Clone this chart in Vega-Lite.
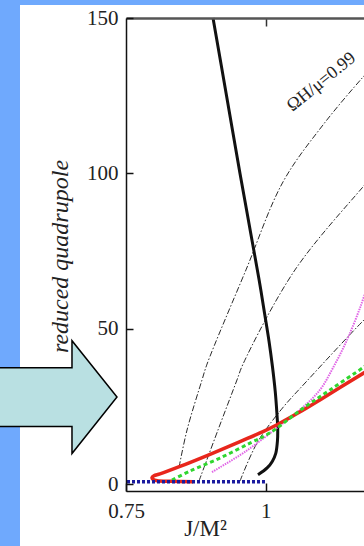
{
  "$schema": "https://vega.github.io/schema/vega-lite/v6.json",
  "width": 238,
  "height": 473,
  "autosize": {"type": "none"},
  "padding": {"left": 126, "top": 18, "right": 0, "bottom": 55},
  "background": "#6fa9fd",
  "config": {"view": {"stroke": null}, "axis": {"grid": false}},
  "resolve": {"axis": {"x": "independent", "y": "independent"}},
  "datasets": {
    "one": [{}],
    "curves": [
      {"s": "bh", "i": 0, "J": 0.9057, "Q": 150},
      {"s": "bh", "i": 1, "J": 0.9299, "Q": 125},
      {"s": "bh", "i": 2, "J": 0.954, "Q": 100},
      {"s": "bh", "i": 3, "J": 0.966, "Q": 88},
      {"s": "bh", "i": 4, "J": 0.977, "Q": 77},
      {"s": "bh", "i": 5, "J": 0.988, "Q": 66},
      {"s": "bh", "i": 6, "J": 0.998, "Q": 55},
      {"s": "bh", "i": 7, "J": 1.006, "Q": 46},
      {"s": "bh", "i": 8, "J": 1.012, "Q": 38},
      {"s": "bh", "i": 9, "J": 1.017, "Q": 30},
      {"s": "bh", "i": 10, "J": 1.02, "Q": 23},
      {"s": "bh", "i": 11, "J": 1.0215, "Q": 18},
      {"s": "bh", "i": 12, "J": 1.021, "Q": 14},
      {"s": "bh", "i": 13, "J": 1.018, "Q": 10},
      {"s": "bh", "i": 14, "J": 1.012, "Q": 7.5},
      {"s": "bh", "i": 15, "J": 1.003, "Q": 5.4},
      {"s": "bh", "i": 16, "J": 0.9862, "Q": 3.1},
      {"s": "w1", "i": 0, "J": 0.845, "Q": 5.6},
      {"s": "w1", "i": 1, "J": 0.8592, "Q": 17.5},
      {"s": "w1", "i": 2, "J": 0.886, "Q": 33.6},
      {"s": "w1", "i": 3, "J": 0.895, "Q": 38.7},
      {"s": "w1", "i": 4, "J": 0.9647, "Q": 69},
      {"s": "w1", "i": 5, "J": 1.031, "Q": 97.3},
      {"s": "w1", "i": 6, "J": 1.1025, "Q": 115.6},
      {"s": "w1", "i": 7, "J": 1.1741, "Q": 131},
      {"s": "w1", "i": 8, "J": 1.2, "Q": 136},
      {"s": "w2", "i": 0, "J": 0.8806, "Q": 1.1},
      {"s": "w2", "i": 1, "J": 0.9146, "Q": 17.5},
      {"s": "w2", "i": 2, "J": 0.9486, "Q": 33.6},
      {"s": "w2", "i": 3, "J": 0.9594, "Q": 38.7},
      {"s": "w2", "i": 4, "J": 1.0524, "Q": 69},
      {"s": "w2", "i": 5, "J": 1.1741, "Q": 95.7},
      {"s": "w2", "i": 6, "J": 1.2, "Q": 101},
      {"s": "w3", "i": 0, "J": 0.954, "Q": 1.1},
      {"s": "w3", "i": 1, "J": 0.9844, "Q": 13.3},
      {"s": "w3", "i": 2, "J": 1.0274, "Q": 24},
      {"s": "w3", "i": 3, "J": 1.0739, "Q": 33.3},
      {"s": "w3", "i": 4, "J": 1.1759, "Q": 52.9},
      {"s": "w3", "i": 5, "J": 1.2, "Q": 57},
      {"s": "mag", "i": 0, "J": 0.9039, "Q": 4.0},
      {"s": "mag", "i": 1, "J": 0.963, "Q": 10.5},
      {"s": "mag", "i": 2, "J": 1.0202, "Q": 18.2},
      {"s": "mag", "i": 3, "J": 1.0614, "Q": 24},
      {"s": "mag", "i": 4, "J": 1.097, "Q": 30.4},
      {"s": "mag", "i": 5, "J": 1.1204, "Q": 37.5},
      {"s": "mag", "i": 6, "J": 1.1455, "Q": 46.5},
      {"s": "mag", "i": 7, "J": 1.1706, "Q": 57.7},
      {"s": "mag", "i": 8, "J": 1.1866, "Q": 66.4},
      {"s": "grn", "i": 0, "J": 0.8323, "Q": 1.4},
      {"s": "grn", "i": 1, "J": 0.8645, "Q": 4.3},
      {"s": "grn", "i": 2, "J": 0.9182, "Q": 8.5},
      {"s": "grn", "i": 3, "J": 0.9719, "Q": 13.3},
      {"s": "grn", "i": 4, "J": 1.0077, "Q": 16.6},
      {"s": "grn", "i": 5, "J": 1.0614, "Q": 23.8},
      {"s": "grn", "i": 6, "J": 1.115, "Q": 30.4},
      {"s": "grn", "i": 7, "J": 1.1759, "Q": 37.8},
      {"s": "grn", "i": 8, "J": 1.2, "Q": 41},
      {"s": "red", "i": 0, "J": 0.87, "Q": 0.9},
      {"s": "red", "i": 1, "J": 0.83, "Q": 1.0},
      {"s": "red", "i": 2, "J": 0.806, "Q": 1.2},
      {"s": "red", "i": 3, "J": 0.7985, "Q": 1.6},
      {"s": "red", "i": 4, "J": 0.7965, "Q": 2.2},
      {"s": "red", "i": 5, "J": 0.8, "Q": 2.8},
      {"s": "red", "i": 6, "J": 0.8108, "Q": 3.4},
      {"s": "red", "i": 7, "J": 0.8466, "Q": 5.8},
      {"s": "red", "i": 8, "J": 0.895, "Q": 9.3},
      {"s": "red", "i": 9, "J": 0.954, "Q": 13.8},
      {"s": "red", "i": 10, "J": 0.9952, "Q": 17.0},
      {"s": "red", "i": 11, "J": 1.0202, "Q": 19.2},
      {"s": "red", "i": 12, "J": 1.06, "Q": 23.2},
      {"s": "red", "i": 13, "J": 1.097, "Q": 27.2},
      {"s": "red", "i": 14, "J": 1.1759, "Q": 35.9},
      {"s": "red", "i": 15, "J": 1.2, "Q": 38.6},
      {"s": "blue", "i": 0, "J": 0.7518, "Q": 0.9},
      {"s": "blue", "i": 1, "J": 0.9987, "Q": 0.9}
    ]
  },
  "layer": [
    {
      "data": {"name": "one"},
      "mark": {"type": "rect", "fill": "#ffffff", "clip": false},
      "encoding": {
        "x": {"datum": 0.5603, "type": "quantitative", "scale": {"domain": [0.75, 1.1759], "nice": false, "zero": false}, "axis": null},
        "x2": {"datum": 1.3},
        "y": {"datum": 154.2, "type": "quantitative", "scale": {"domain": [-2.1, 150], "nice": false, "zero": false}, "axis": null},
        "y2": {"datum": -30}
      }
    },
    {
      "data": {"name": "one"},
      "mark": {"type": "point", "shape": "M -1.12 -0.49 L 0.25 -0.49 L 0.25 -0.94 L 1 0 L 0.25 0.94 L 0.25 0.49 L -1.12 0.49 Z", "size": 14400, "filled": true, "fill": "#b9e0e2", "stroke": "#000000", "strokeWidth": 1.5, "opacity": 1, "clip": false},
      "encoding": {
        "x": {"datum": 0.6265, "type": "quantitative", "axis": null},
        "y": {"datum": 28.1, "type": "quantitative", "axis": null}
      }
    },
    {
      "data": {"name": "curves"},
      "transform": [{"filter": "datum.s == 'w1' || datum.s == 'w2' || datum.s == 'w3'"}],
      "mark": {"type": "line", "color": "#2a2a2a", "strokeWidth": 1, "strokeDash": [6, 2, 1.5, 2], "interpolate": "catmull-rom"},
      "encoding": {
        "x": {"field": "J", "type": "quantitative", "axis": null},
        "y": {"field": "Q", "type": "quantitative", "axis": null},
        "detail": {"field": "s"},
        "order": {"field": "i"}
      }
    },
    {
      "data": {"name": "curves"},
      "transform": [{"filter": "datum.s == 'bh'"}],
      "mark": {"type": "line", "color": "#111111", "strokeWidth": 3, "interpolate": "catmull-rom"},
      "encoding": {
        "x": {"field": "J", "type": "quantitative", "axis": null},
        "y": {"field": "Q", "type": "quantitative", "axis": null},
        "order": {"field": "i"}
      }
    },
    {
      "data": {"name": "curves"},
      "transform": [{"filter": "datum.s == 'mag'"}],
      "mark": {"type": "line", "color": "#e065e6", "strokeWidth": 2, "strokeDash": [1.5, 1], "interpolate": "catmull-rom"},
      "encoding": {
        "x": {"field": "J", "type": "quantitative", "axis": null},
        "y": {"field": "Q", "type": "quantitative", "axis": null},
        "order": {"field": "i"}
      }
    },
    {
      "data": {"name": "curves"},
      "transform": [{"filter": "datum.s == 'red'"}],
      "mark": {"type": "line", "color": "#e8261c", "strokeWidth": 3.5, "interpolate": "catmull-rom"},
      "encoding": {
        "x": {"field": "J", "type": "quantitative", "axis": null},
        "y": {"field": "Q", "type": "quantitative", "axis": null},
        "order": {"field": "i"}
      }
    },
    {
      "data": {"name": "curves"},
      "transform": [{"filter": "datum.s == 'grn'"}],
      "mark": {"type": "line", "color": "#2fd62f", "strokeWidth": 3, "strokeDash": [4, 3], "interpolate": "catmull-rom"},
      "encoding": {
        "x": {"field": "J", "type": "quantitative", "axis": null},
        "y": {"field": "Q", "type": "quantitative", "axis": null},
        "order": {"field": "i"}
      }
    },
    {
      "data": {"name": "curves"},
      "transform": [{"filter": "datum.s == 'blue'"}],
      "mark": {"type": "line", "color": "#1a1a9e", "strokeWidth": 3.5, "strokeDash": [3, 2]},
      "encoding": {
        "x": {
          "field": "J", "type": "quantitative",
          "axis": {
            "orient": "bottom", "zindex": 2, "values": [0.75, 1], "format": ".2~f", "labelFlush": false,
            "tickSize": -8, "tickWidth": 1.5, "tickColor": "#111111",
            "domainColor": "#111111", "domainWidth": 1.5,
            "labelFont": "Liberation Serif", "labelFontSize": 21, "labelColor": "#222222", "labelPadding": 17,
            "title": "J/M²", "titleFont": "Liberation Serif", "titleFontSize": 23, "titleFontWeight": "normal", "titleColor": "#222222",
            "titleX": 79, "titleY": 44, "titleBaseline": "alphabetic", "titleAlign": "center"
          }
        },
        "y": {
          "field": "Q", "type": "quantitative",
          "axis": {
            "orient": "left", "zindex": 2, "values": [0, 50, 100, 150],
            "tickSize": -7, "tickWidth": 1.5, "tickColor": "#111111",
            "domainColor": "#111111", "domainWidth": 1.5,
            "labelFont": "Liberation Serif", "labelFontSize": 21, "labelColor": "#222222", "labelPadding": 15,
            "title": "reduced quadrupole", "titleFont": "Liberation Serif", "titleFontStyle": "italic", "titleFontSize": 24, "titleFontWeight": "normal", "titleColor": "#222222",
            "titleX": -66, "titleY": 238, "titleAngle": -90, "titleAlign": "center", "titleBaseline": "middle"
          }
        },
        "order": {"field": "i"}
      }
    },
    {
      "data": {"name": "one"},
      "mark": {"type": "text", "text": "ΩH/μ=0.99", "font": "Liberation Serif", "fontSize": 18, "angle": -39, "align": "center", "baseline": "middle", "color": "#222222"},
      "encoding": {
        "x": {
          "datum": 1.0998, "type": "quantitative",
          "axis": {"orient": "top", "zindex": 2, "values": [1], "labels": false, "tickSize": -8, "tickWidth": 1.5, "tickColor": "#333333", "domainColor": "#555555", "domainWidth": 2.5, "title": null}
        },
        "y": {"datum": 129.4, "type": "quantitative", "axis": null}
      }
    }
  ]
}
